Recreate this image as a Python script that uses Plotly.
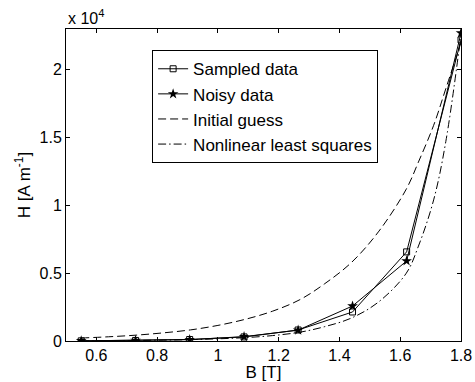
import plotly.graph_objects as go

B_samples = [0.55, 0.729, 0.907, 1.086, 1.264, 1.443, 1.621, 1.8]
H_sampled = [10, 40, 110, 300, 810, 2140, 6570, 22200]
H_noisy = [12, 45, 100, 320, 800, 2580, 5900, 22700]

B_fine = [0.55, 0.64, 0.73, 0.82, 0.91, 1.0, 1.09, 1.18, 1.27, 1.35, 1.44, 1.53, 1.62, 1.66, 1.71, 1.75, 1.8]
H_initial = [220, 310, 430, 600, 820, 1150, 1600, 2200, 3050, 4200, 5800, 8100, 11200, 13200, 15900, 18600, 22000]
H_nls = [10, 20, 40, 65, 100, 160, 250, 400, 650, 1050, 1700, 2900, 5000, 7000, 10400, 14700, 22600]

x_ticks = [0.6, 0.8, 1.0, 1.2, 1.4, 1.6, 1.8]
x_ticktext = ["0.6", "0.8", "1", "1.2", "1.4", "1.6", "1.8"]
y_ticks = [0, 5000, 10000, 15000, 20000]
y_ticktext = ["0", "0.5", "1", "1.5", "2"]

FAM = "Liberation Sans, Arial, sans-serif"
font = dict(family=FAM, size=16, color="black")

fig = go.Figure()
fig.add_trace(go.Scatter(x=B_samples, y=H_sampled, mode="lines+markers", name="Sampled data",
                         line=dict(color="black", width=1),
                         marker=dict(symbol="square-open", size=6, color="black", line=dict(width=1))))
fig.add_trace(go.Scatter(x=B_samples, y=H_noisy, mode="lines+markers", name="Noisy data",
                         line=dict(color="black", width=1),
                         marker=dict(symbol="star", size=8, color="black", line=dict(width=0))))
fig.add_trace(go.Scatter(x=B_fine, y=H_initial, mode="lines", name="Initial guess",
                         line=dict(color="black", width=1, dash="8px,4px", shape="spline")))
fig.add_trace(go.Scatter(x=B_fine, y=H_nls, mode="lines", name="Nonlinear least squares",
                         line=dict(color="black", width=1, dash="8px,3px,1.5px,3px", shape="spline")))

fig.update_layout(
    width=475, height=382,
    margin=dict(l=66, r=14, t=29, b=41),
    paper_bgcolor="white", plot_bgcolor="white",
    font=font,
    showlegend=True,
    legend=dict(x=0.218, y=0.932, xanchor="left", yanchor="top",
                bgcolor="white", bordercolor="black", borderwidth=1,
                font=dict(family=FAM, size=17, color="black"),
                tracegroupgap=0, itemwidth=30),
    xaxis=dict(range=[0.5, 1.8], tickvals=x_ticks, ticktext=x_ticktext,
               ticks="inside", ticklen=4, tickcolor="black", automargin=False,
               showline=True, linecolor="black", linewidth=1, mirror="ticks",
               showgrid=False, zeroline=False, tickfont=dict(size=16),
               title=dict(text="B [T]", standoff=0, font=dict(size=17))),
    yaxis=dict(range=[0, 23000], tickvals=y_ticks, ticktext=y_ticktext,
               ticks="inside", ticklen=4, tickcolor="black", automargin=False,
               showline=True, linecolor="black", linewidth=1, mirror="ticks",
               showgrid=False, zeroline=False, tickfont=dict(size=16),
               title=dict(text="H [A m<sup>-1</sup>]", standoff=4, font=dict(size=17))),
    annotations=[dict(text="x 10<sup>4</sup>", xref="paper", yref="paper", x=0.0, y=1.0,
                      xanchor="left", yanchor="bottom", showarrow=False, yshift=0,
                      font=dict(family=FAM, size=16))]
)

fig.write_html("out.html")
